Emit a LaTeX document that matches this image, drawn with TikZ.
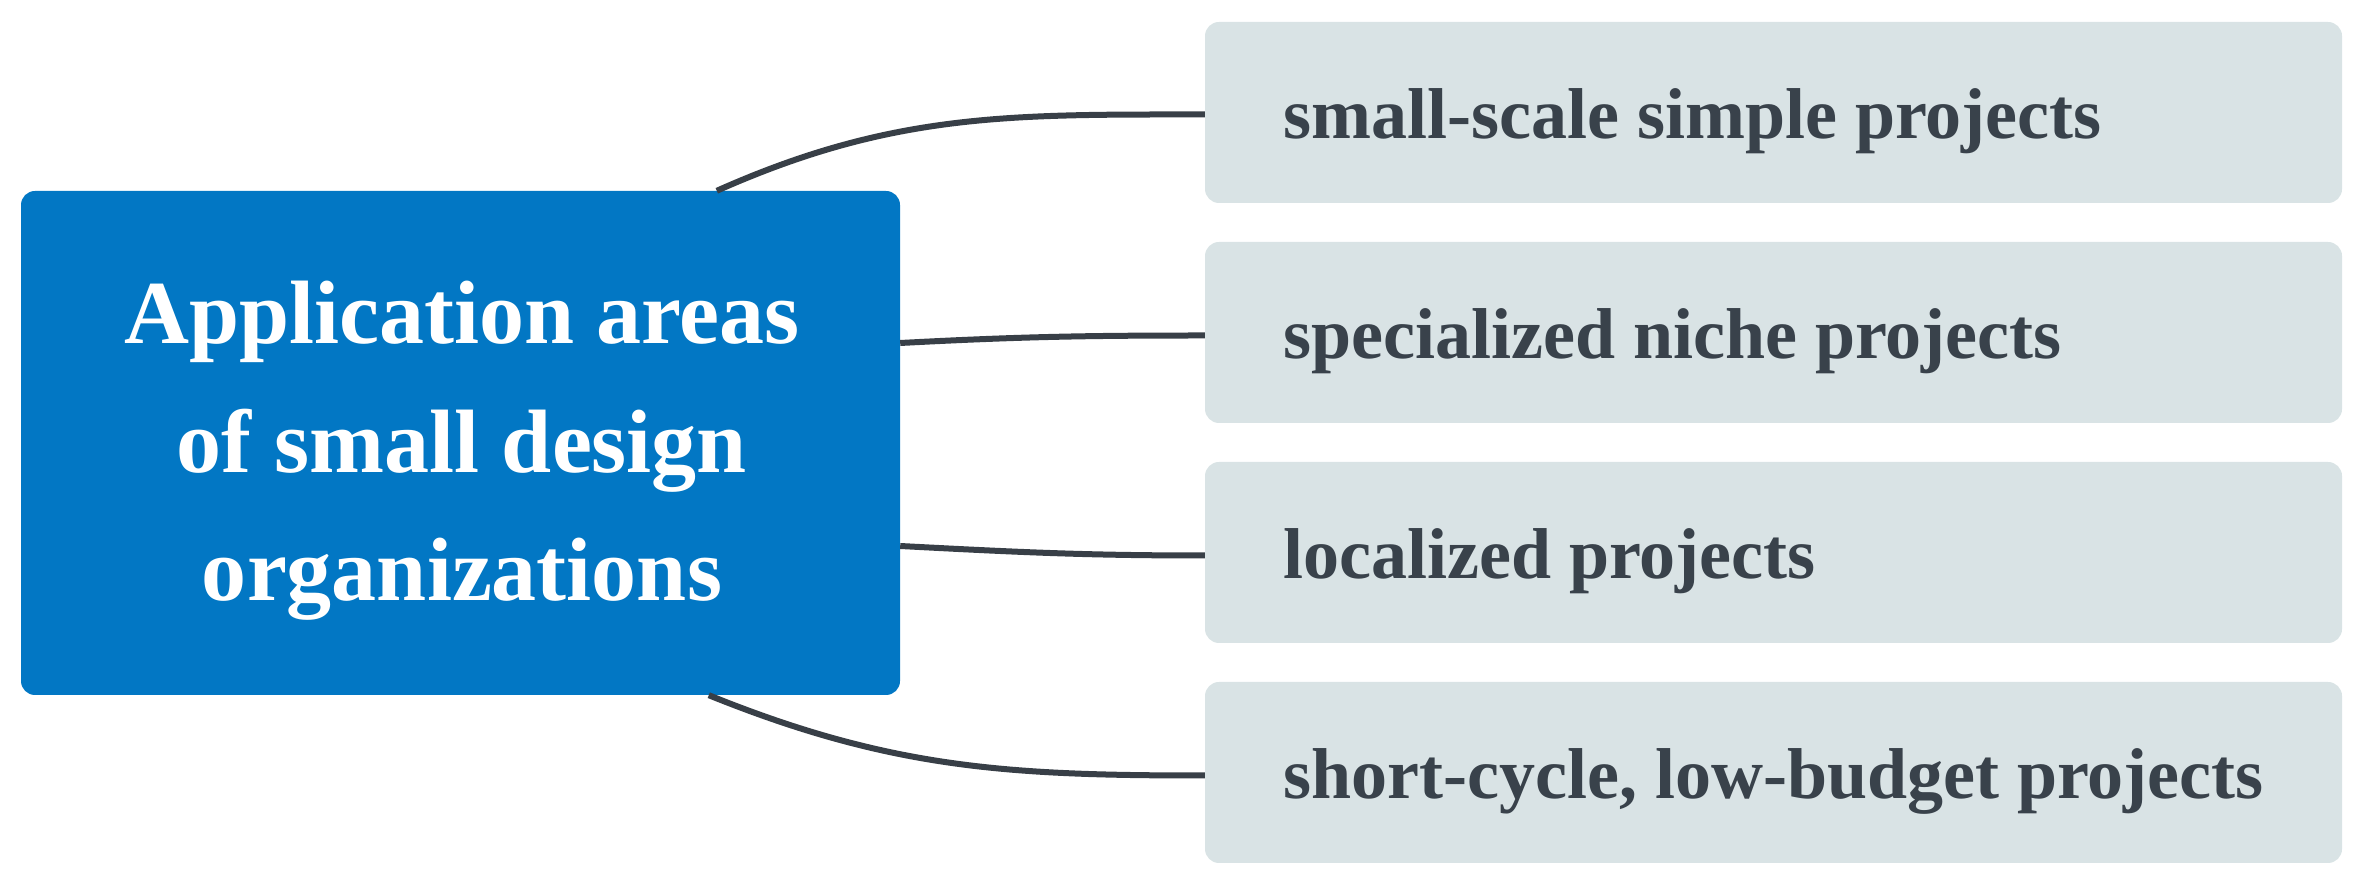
\documentclass[tikz,border=0pt]{standalone}
\usepackage{fontspec}
\setmainfont{Liberation Serif}
\definecolor{mainblue}{RGB}{2,119,196}
\definecolor{leafgray}{RGB}{217,227,229}
\definecolor{leaftext}{RGB}{57,66,75}
\definecolor{linkcol}{RGB}{56,63,71}
\tikzset{
  mainbox/.style={fill=mainblue, rounded corners=14pt, minimum width=879pt, minimum height=504pt, inner sep=0pt},
  mainlabel/.style={text=white, font=\bfseries\fontsize{90pt}{128.5pt}\selectfont, align=center, inner sep=0pt},
  leafbox/.style={fill=leafgray, rounded corners=14pt, minimum width=1137pt, minimum height=181pt, inner sep=0pt},
  leaflabel/.style={text=leaftext, font=\bfseries\fontsize{72pt}{86pt}\selectfont, anchor=base west, inner sep=0pt},
  link/.style={draw=linkcol, line width=6pt}
}
\begin{document}
\begin{tikzpicture}[x=1pt,y=1pt]
\useasboundingbox (0,0) rectangle (2360,880);
\node[mainbox] (m) at (460.5,437) {};
\node[mainlabel] (mt) at (462,429) {Application areas\\of small design\\organizations};
\node[leafbox] (b1) at (1773.5,767.5) {};
\node[leafbox] (b2) at (1773.5,547.5) {};
\node[leafbox] (b3) at (1773.5,327.5) {};
\node[leafbox] (b4) at (1773.5,107.5) {};
\node[leaflabel] (t1) at (1283,741) {small-scale simple projects};
\node[leaflabel] (t2) at (1283,521) {specialized niche projects};
\node[leaflabel] (t3) at (1283,301) {localized projects};
\node[leaflabel] (t4) at (1283,81) {short-cycle, low-budget projects};
\coordinate (s1) at ([xshift=696pt]m.north west);
\coordinate (s2) at ([yshift=100pt]m.east);
\coordinate (s3) at ([yshift=-103pt]m.east);
\coordinate (s4) at ([xshift=688pt]m.south west);
\draw[link] (s1) to[out=24,in=180] ([yshift=-2pt]b1.west);
\draw[link] (s2) to[out=3,in=180] ([yshift=-3pt]b2.west);
\draw[link] (s3) to[out=-3,in=180] ([yshift=-3pt]b3.west);
\draw[link] (s4) to[out=-22,in=180] ([yshift=-3pt]b4.west);
\end{tikzpicture}
\end{document}
